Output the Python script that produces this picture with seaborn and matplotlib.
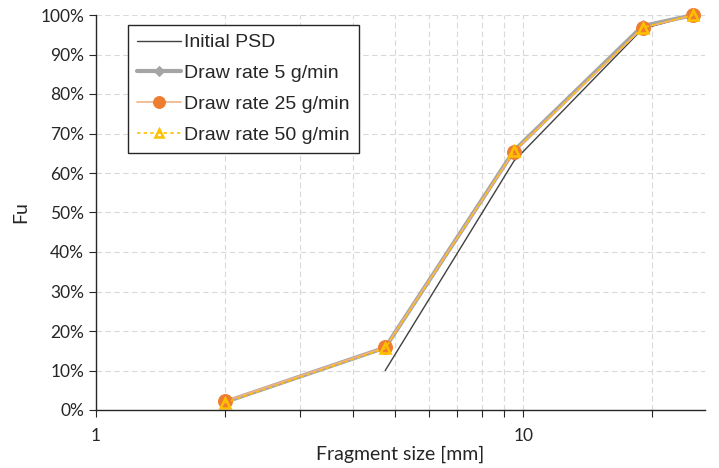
import seaborn as sns
import matplotlib.pyplot as plt
import matplotlib.ticker as mticker
import pandas as pd

# fragment sizes [mm] and cumulative passing fractions
sizes = [2, 4.75, 9.5, 19, 25]
initial_sizes = [4.75, 9.5, 19, 25]
initial_psd = [0.10, 0.63, 0.965, 1.0]
rate_5 = [0.020, 0.158, 0.656, 0.972, 1.0]
rate_25 = [0.022, 0.159, 0.654, 0.967, 1.0]
rate_50 = [0.018, 0.156, 0.655, 0.968, 1.0]

sns.set_style("white")
plt.rcParams['font.family'] = ['Lato', 'DejaVu Sans']

fig = plt.figure(figsize=(7.19, 4.68), dpi=100)
ax = fig.add_axes([96 / 719, 1 - 410 / 468, (705 - 96) / 719, (410 - 15) / 468])

df_init = pd.DataFrame({'size': initial_sizes, 'Fu': initial_psd})
df5 = pd.DataFrame({'size': sizes, 'Fu': rate_5})
df25 = pd.DataFrame({'size': sizes, 'Fu': rate_25})
df50 = pd.DataFrame({'size': sizes, 'Fu': rate_50})

sns.lineplot(data=df_init, x='size', y='Fu', ax=ax, color='#404040', lw=1.0,
             label='Initial PSD', clip_on=False)
sns.lineplot(data=df5, x='size', y='Fu', ax=ax, color='#A5A5A5', lw=3.0,
             marker='D', markersize=6, markeredgecolor='#A5A5A5',
             label='Draw rate 5 g/min', clip_on=False)
sns.lineplot(data=df25, x='size', y='Fu', ax=ax, color='#F4B183', lw=1.2,
             marker='o', markersize=10, markerfacecolor='#ED7D31', markeredgecolor='#ED7D31',
             label='Draw rate 25 g/min', clip_on=False)
sns.lineplot(data=df50, x='size', y='Fu', ax=ax, color='#FFC000', lw=1.2, ls=(0, (2, 2)),
             marker='^', markersize=7, markerfacecolor='none', markeredgecolor='#FFC000',
             markeredgewidth=1.8, label='Draw rate 50 g/min', clip_on=False)

ax.set_xscale('log')
ax.set_xlim(1, 26.6)
ax.set_ylim(0, 1)
ax.yaxis.set_major_locator(mticker.MultipleLocator(0.1))
ax.yaxis.set_major_formatter(mticker.PercentFormatter(1.0, decimals=0))
ax.xaxis.set_major_formatter(mticker.FuncFormatter(lambda v, p: f"{v:g}"))
ax.xaxis.set_minor_formatter(mticker.NullFormatter())

ax.grid(True, which='both', axis='x', color='#D9D9D9', ls=(0, (5, 3)), lw=0.8)
ax.grid(True, which='major', axis='y', color='#D9D9D9', ls=(0, (5, 3)), lw=0.8)
ax.set_axisbelow(True)

for s in ['top', 'right']:
    ax.spines[s].set_visible(False)
for s in ['left', 'bottom']:
    ax.spines[s].set_color('#262626')
    ax.spines[s].set_linewidth(1.0)

ax.tick_params(axis='both', which='major', direction='out', length=5, width=0.8,
               color='#262626', labelsize=12.5, labelcolor='#262626', bottom=True, left=True)
ax.tick_params(axis='x', which='minor', direction='out', length=5, width=0.8,
               color='#262626', bottom=True)
ax.tick_params(axis='x', which='major', pad=8)

ax.set_xlabel('Fragment size [mm]', fontsize=14, color='#262626', labelpad=1)
ax.set_ylabel('Fu', fontsize=14, color='#262626', labelpad=8)

leg = ax.legend(loc='upper left', bbox_to_anchor=(128 / 719, 1 - 25 / 468),
                bbox_transform=fig.transFigure, borderaxespad=0, frameon=True, fancybox=False,
                edgecolor='#262626', framealpha=1, borderpad=0.45, handlelength=2.3,
                handletextpad=0.15, labelspacing=0.68, markerscale=0.85,
                prop={'family': 'Liberation Sans', 'size': 14})
leg.get_frame().set_linewidth(1.0)

fig.savefig('out.png', dpi=100)
